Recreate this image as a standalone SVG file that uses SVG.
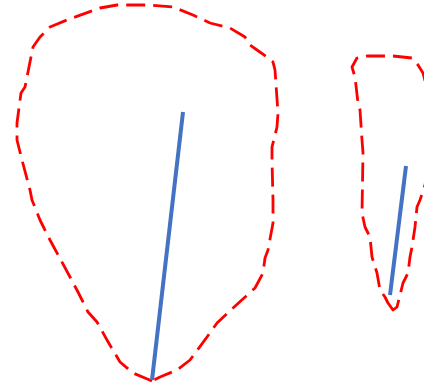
<svg xmlns="http://www.w3.org/2000/svg" width="424" height="389" viewBox="0 0 424 389">
<style>
.outline{fill:none;stroke:#FF0000;stroke-width:2.8;stroke-dasharray:19 8;stroke-linejoin:round;stroke-linecap:butt}
.axis{stroke:#4472C4;stroke-width:4;fill:none}
</style>
<rect width="424" height="389" fill="#fff"/>
<g id="shape-large">
<path class="outline" d="M152,381 L133,373 L120,362 L107,340 L97,322 L88,312 L78,292 L70,277 L50,240 L40,220 L32,200 L30,190 L22,160 L17,140 L17,123 L21,93 L25,87 L33,47 L40,37 L50,27 L67,20 L100,8 L117,5 L150,5 L173,7 L193,15 L210,23 L230,28 L245,37 L250,45 L257,50 L267,57 L273,62 L275,70 L278,113 L277,127 L272,147 L272,160 L273,200 L273,223 L268,250 L265,258 L263,273 L255,288 L233,308 L217,323 L207,337 L190,360 L177,370 L160,377 Z"/>
<line class="axis" x1="183" y1="112" x2="152" y2="380"/>
</g>
<g id="shape-small">
<path class="outline" d="M393,310 L388,303 L385,297 L380,290 L377,273 L372,257 L370,237 L365,227 L362,213 L363,153 L362,140 L360,110 L358,103 L355,77 L352,67 L357,58 L367,56 L393,56 L412,58 L418,65 L423,73 L430,100 L432,150 L425,185 L420,200 L417,207 L415,227 L412,247 L410,257 L408,273 L403,283 L397,307 Z"/>
<line class="axis" x1="406" y1="166" x2="390" y2="295"/>
</g>
<g id="connectors"/>
</svg>
